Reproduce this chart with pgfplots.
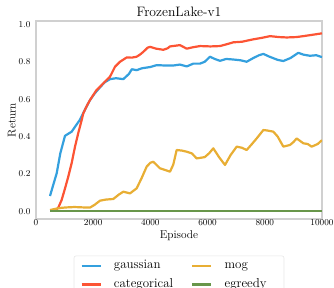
\documentclass[border=0pt]{standalone}
\usepackage{pgfplots}
\pgfplotsset{compat=1.18}
\definecolor{cblue}{RGB}{52,160,222}
\definecolor{cred}{RGB}{252,84,52}
\definecolor{corange}{RGB}{232,174,52}
\definecolor{cgreen}{RGB}{104,150,74}
\definecolor{frame}{RGB}{208,208,208}
\begin{document}
\begin{tikzpicture}
\begin{axis}[
  scale only axis,
  width=286bp, height=198bp,
  xmin=0, xmax=10000, ymin=-0.041, ymax=1.018,
  xtick={0,2000,4000,6000,8000,10000},
  ytick={0,0.2,0.4,0.6,0.8,1.0},
  scaled x ticks=false,
  xticklabel style={/pgf/number format/1000 sep={}, font=\fontsize{9.2}{11}\selectfont, inner sep=0.5bp},
  yticklabel style={/pgf/number format/.cd, fixed, fixed zerofill, precision=1, /tikz/.cd, font=\fontsize{9.2}{11}\selectfont, xshift=-2bp},
  major tick length=0pt,
  axis line style={frame, line width=1.6bp},
  title={FrozenLake-v1},
  title style={font=\fontsize{13.7}{16}\selectfont, inner sep=1bp, yshift=-2.5bp},
  xlabel={Episode}, ylabel={Return},
  label style={font=\fontsize{11.4}{13}\selectfont},
  xlabel style={inner sep=1bp, yshift=-3bp},
  ylabel shift=-4bp,
  legend columns=2,
  transpose legend,
  legend cell align=left,
  legend style={at={(0.5,-0.185)}, anchor=north, draw=frame!50, line width=0.6bp, rounded corners=2bp,
    font=\fontsize{13}{15}\selectfont, inner xsep=6.4bp, inner ysep=2bp,
    nodes={inner sep=2bp, text height=9bp, text depth=3bp},
    row sep=2.6bp,
    /tikz/every odd column/.append style={column sep=10.3bp},
    /tikz/every even column/.append style={column sep=16bp}},
  legend image code/.code={\draw[#1, line width=2.2bp, line cap=butt] (0bp,0bp) -- (19bp,0bp);},
  every axis plot/.append style={line width=2.2bp, line join=round},
]
\addplot[cblue] coordinates {
(490,0.082)(600,0.14)(723,0.203)(850,0.31)(1014,0.404)(1130,0.415)(1247,0.426)(1400,0.46)(1538,0.49)(1700,0.54)(1888,0.595)(2050,0.63)(2238,0.663)(2400,0.69)(2587,0.707)(2800,0.712)(3053,0.707)(3250,0.735)(3350,0.76)(3520,0.755)(3700,0.765)(4000,0.772)(4220,0.782)(4500,0.78)(4800,0.78)(5035,0.785)(5270,0.775)(5500,0.79)(5734,0.79)(5900,0.80)(6084,0.827)(6250,0.815)(6433,0.805)(6650,0.815)(6900,0.812)(7150,0.808)(7366,0.80)(7600,0.82)(7800,0.835)(7950,0.842)(8150,0.828)(8450,0.81)(8648,0.804)(8900,0.82)(9172,0.848)(9350,0.838)(9580,0.832)(9800,0.835)(10000,0.825)
};
\addlegendentry{gaussian}
\addplot[cred] coordinates {
(664,0.003)(780,0.02)(895,0.06)(1010,0.12)(1128,0.185)(1250,0.26)(1364,0.346)(1480,0.42)(1597,0.488)(1654,0.524)(1780,0.565)(1888,0.595)(2100,0.645)(2350,0.684)(2587,0.72)(2762,0.773)(2937,0.80)(3171,0.823)(3350,0.822)(3520,0.827)(3650,0.84)(3752,0.853)(3900,0.875)(3986,0.88)(4200,0.87)(4454,0.864)(4600,0.872)(4685,0.882)(5035,0.889)(5270,0.87)(5500,0.878)(5734,0.884)(6100,0.882)(6433,0.884)(6700,0.895)(6900,0.904)(7200,0.907)(7599,0.92)(7900,0.928)(8182,0.937)(8500,0.932)(8765,0.93)(9100,0.932)(9347,0.937)(9700,0.945)(10000,0.952)
};
\addlegendentry{categorical}
\addplot[corange] coordinates {
(490,0.007)(700,0.014)(900,0.019)(1072,0.021)(1350,0.023)(1654,0.021)(1888,0.02)(2050,0.035)(2238,0.057)(2450,0.063)(2703,0.066)(2900,0.09)(3053,0.105)(3287,0.096)(3520,0.123)(3700,0.18)(3869,0.239)(4000,0.26)(4102,0.265)(4336,0.23)(4500,0.222)(4685,0.212)(4800,0.25)(4918,0.328)(5100,0.325)(5270,0.319)(5450,0.31)(5617,0.283)(5900,0.29)(6050,0.31)(6200,0.337)(6400,0.29)(6608,0.248)(6800,0.30)(7017,0.346)(7200,0.34)(7366,0.328)(7550,0.36)(7716,0.39)(7950,0.435)(8100,0.432)(8299,0.426)(8450,0.40)(8648,0.346)(8880,0.355)(9000,0.37)(9114,0.39)(9347,0.364)(9500,0.36)(9638,0.346)(9850,0.36)(10000,0.381)
};
\addlegendentry{mog}
\addplot[cgreen] coordinates {(490,0)(10000,0)};
\addlegendentry{egreedy\hspace*{9bp}}
\end{axis}
\pgfresetboundingbox
\path[use as bounding box] (-36bp,-69bp) rectangle (298bp,219bp);
\end{tikzpicture}
\end{document}
